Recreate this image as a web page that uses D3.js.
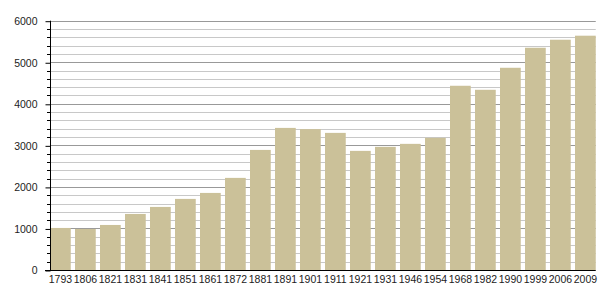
<!DOCTYPE html>
<html>
<head>
<meta charset="utf-8">
<script src="https://cdn.jsdelivr.net/npm/d3@7"></script>
<style>
  html, body { margin: 0; padding: 0; background: #fff; }
  svg { display: block; }
  text { font-family: "Liberation Sans", Arial, sans-serif; }
</style>
</head>
<body>
<svg id="chart" width="605" height="300"></svg>
<script>
const years = ["1793","1806","1821","1831","1841","1851","1861","1872","1881","1891","1901","1911","1921","1931","1946","1954","1968","1982","1990","1999","2006","2009"];
const population = [1012, 988, 1084, 1349, 1518, 1711, 1855, 2217, 2890, 3420, 3390, 3300, 2867, 2964, 3036, 3181, 4434, 4337, 4867, 5349, 5542, 5639];
const majorTicks = [0, 1000, 2000, 3000, 4000, 5000, 6000];
const minorTicks = d3.range(0, 6001, 200);

(function () {
const svg = d3.select("#chart");
const mLeft = 50, mRight = 595.75, mTop = 20.7, mBottom = 270;

const x = d3.scaleBand().domain(years).range([mLeft, mRight]).paddingInner(0.17).paddingOuter(0);
const y = d3.scaleLinear().domain([0, 6000]).range([mBottom, mTop]);

// gridlines
svg.append("g").selectAll("line").data(minorTicks.filter(v => v % 1000 !== 0)).join("line")
  .attr("x1", mLeft).attr("x2", mRight)
  .attr("y1", d => Math.round(y(d)) + 0.5).attr("y2", d => Math.round(y(d)) + 0.5)
  .attr("stroke", "#c8c8c8").attr("stroke-width", 1);
svg.append("g").selectAll("line").data(majorTicks.filter(v => v > 0)).join("line")
  .attr("x1", mLeft).attr("x2", mRight)
  .attr("y1", d => Math.round(y(d)) + 0.5).attr("y2", d => Math.round(y(d)) + 0.5)
  .attr("stroke", "#999").attr("stroke-width", 1);

// bars
svg.append("g").selectAll("rect").data(years).join("rect")
  .attr("x", d => x(d))
  .attr("width", x.bandwidth())
  .attr("y", (d, i) => y(population[i]))
  .attr("height", (d, i) => mBottom - y(population[i]))
  .attr("fill", "#cbc199");

// y axis: minor ticks
svg.append("g").selectAll("line").data(minorTicks.filter(v => v % 1000 !== 0)).join("line")
  .attr("x1", mLeft - 3).attr("x2", mLeft)
  .attr("y1", d => Math.round(y(d)) + 0.5).attr("y2", d => Math.round(y(d)) + 0.5)
  .attr("stroke", "#000");

const yAxis = d3.axisLeft(y).tickValues(majorTicks).tickSize(5).tickPadding(8).tickFormat(d3.format("d"));
const gy = svg.append("g").attr("transform", `translate(${mLeft + 0.5},0.5)`).call(yAxis);
gy.select(".domain").remove();
gy.selectAll("text").attr("font-size", "10.5px").attr("fill", "#222").attr("font-family", "Liberation Sans, Arial, sans-serif");
gy.selectAll("line").attr("stroke", "#000");

svg.append("line").attr("x1", mLeft + 0.5).attr("x2", mLeft + 0.5).attr("y1", y(6000)).attr("y2", mBottom)
  .attr("stroke", "#000");

// x axis
const xAxis = d3.axisBottom(x).tickSize(0).tickPadding(5);
const gx = svg.append("g").attr("transform", `translate(0,${mBottom + 0.5})`).call(xAxis);
gx.select(".domain").remove();
gx.selectAll("text").attr("font-size", "10.5px").attr("fill", "#222").attr("font-family", "Liberation Sans, Arial, sans-serif");
svg.append("line").attr("x1", mLeft - 5).attr("x2", mRight).attr("y1", mBottom + 0.5).attr("y2", mBottom + 0.5)
  .attr("stroke", "#000");
})();
</script>
</body>
</html>
